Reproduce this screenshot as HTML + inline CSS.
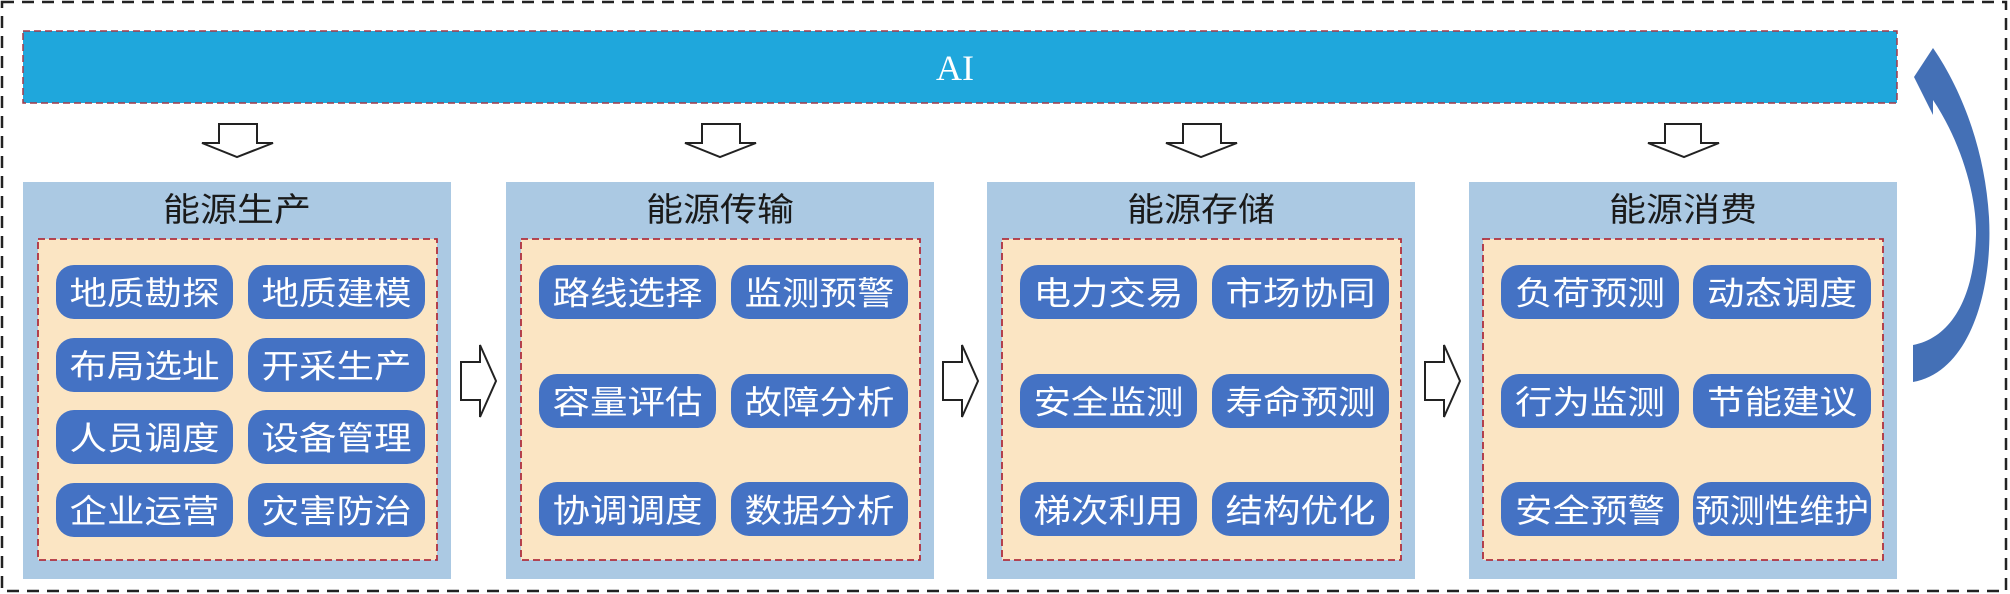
<!DOCTYPE html>
<html><head><meta charset="utf-8"><style>
html,body{margin:0;padding:0;background:#fff;}
svg{display:block;}
.t{font-family:"Liberation Sans","Noto Sans CJK SC",sans-serif;}
</style></head><body>
<svg width="2010" height="594" viewBox="0 0 2010 594" xmlns="http://www.w3.org/2000/svg">
<rect x="2" y="2" width="2004" height="589" fill="none" stroke="#222" stroke-width="2.5" stroke-dasharray="12,8"/>
<rect x="23" y="31" width="1874" height="72" fill="#1fa7dc" stroke="#a33a48" stroke-width="1.5" stroke-dasharray="7,4"/>
<text x="955" y="80" fill="#fff" font-family="Liberation Serif,serif" font-size="36" text-anchor="middle">AI</text>

<!-- down arrows -->
<g fill="#fff" stroke="#222" stroke-width="2">
<path d="M219,124 H257 V143 H273 L237,157 L202,143 H219 Z"/>
<path d="M702,124 H740 V143 H756 L720,157 L685,143 H702 Z"/>
<path d="M1183,124 H1221 V143 H1237 L1201,157 L1166,143 H1183 Z"/>
<path d="M1665,124 H1701 V143 H1719 L1684,157 L1648,143 H1665 Z"/>
<path d="M461,362 H480 V345 L496,381 L480,417 V400 H461 Z"/>
<path d="M943,362 H962 V345 L978,381 L962,417 V400 H943 Z"/>
<path d="M1425,362 H1444 V345 L1460,381 L1444,417 V400 H1425 Z"/>
</g>

<!-- curved arrow -->
<path d="M1913,382 C1970,372 1993,290 1989,217 C1985,150 1962,90 1933,48 L1914,77 L1933,115 L1933,100 C1960,140 1977,195 1976,235 C1974,300 1950,338 1913,345 Z" fill="#4470b6"/>

<g id="panels">
<rect x="23" y="182" width="428" height="397" fill="#abc9e3"/>
<rect x="506" y="182" width="428" height="397" fill="#abc9e3"/>
<rect x="987" y="182" width="428" height="397" fill="#abc9e3"/>
<rect x="1469" y="182" width="428" height="397" fill="#abc9e3"/>
<g fill="#fbe5c3" stroke="#b0303e" stroke-width="1.8" stroke-dasharray="7,4">
<rect x="38" y="239" width="399" height="321"/>
<rect x="521" y="239" width="399" height="321"/>
<rect x="1002" y="239" width="399" height="321"/>
<rect x="1483" y="239" width="400" height="321"/>
</g>
<g fill="#4472c4">
<rect x="56" y="265" width="177" height="54" rx="18"/><rect x="248" y="265" width="177" height="54" rx="18"/>
<rect x="56" y="338" width="177" height="54" rx="18"/><rect x="248" y="338" width="177" height="54" rx="18"/>
<rect x="56" y="410" width="177" height="54" rx="18"/><rect x="248" y="410" width="177" height="54" rx="18"/>
<rect x="56" y="483" width="177" height="54" rx="18"/><rect x="248" y="483" width="177" height="54" rx="18"/>

<rect x="539" y="265" width="177" height="54" rx="18"/><rect x="731" y="265" width="177" height="54" rx="18"/>
<rect x="539" y="374" width="177" height="54" rx="18"/><rect x="731" y="374" width="177" height="54" rx="18"/>
<rect x="539" y="482" width="177" height="54" rx="18"/><rect x="731" y="482" width="177" height="54" rx="18"/>

<rect x="1020" y="265" width="177" height="54" rx="18"/><rect x="1212" y="265" width="177" height="54" rx="18"/>
<rect x="1020" y="374" width="177" height="54" rx="18"/><rect x="1212" y="374" width="177" height="54" rx="18"/>
<rect x="1020" y="482" width="177" height="54" rx="18"/><rect x="1212" y="482" width="177" height="54" rx="18"/>

<rect x="1501" y="265" width="178" height="54" rx="18"/><rect x="1693" y="265" width="178" height="54" rx="18"/>
<rect x="1501" y="374" width="178" height="54" rx="18"/><rect x="1693" y="374" width="178" height="54" rx="18"/>
<rect x="1501" y="482" width="178" height="54" rx="18"/><rect x="1693" y="482" width="178" height="54" rx="18"/>
</g>
</g>

<g transform="scale(1,0.85)" class="t" text-anchor="middle">
<g font-size="39" fill="#1a1a1a">
<text x="237" y="260" textLength="148" lengthAdjust="spacingAndGlyphs">能源生产</text>
<text x="720" y="260" textLength="148" lengthAdjust="spacingAndGlyphs">能源传输</text>
<text x="1201" y="260" textLength="148" lengthAdjust="spacingAndGlyphs">能源存储</text>
<text x="1683" y="260" textLength="148" lengthAdjust="spacingAndGlyphs">能源消费</text>
</g>
<g font-size="38" fill="#fff">
<text x="144.5" y="358" textLength="150" lengthAdjust="spacingAndGlyphs">地质勘探</text><text x="336.5" y="358" textLength="150" lengthAdjust="spacingAndGlyphs">地质建模</text>
<text x="144.5" y="444" textLength="150" lengthAdjust="spacingAndGlyphs">布局选址</text><text x="336.5" y="444" textLength="150" lengthAdjust="spacingAndGlyphs">开采生产</text>
<text x="144.5" y="529" textLength="150" lengthAdjust="spacingAndGlyphs">人员调度</text><text x="336.5" y="529" textLength="150" lengthAdjust="spacingAndGlyphs">设备管理</text>
<text x="144.5" y="614.5" textLength="150" lengthAdjust="spacingAndGlyphs">企业运营</text><text x="336.5" y="614.5" textLength="150" lengthAdjust="spacingAndGlyphs">灾害防治</text>

<text x="627.5" y="358" textLength="150" lengthAdjust="spacingAndGlyphs">路线选择</text><text x="819.5" y="358" textLength="150" lengthAdjust="spacingAndGlyphs">监测预警</text>
<text x="627.5" y="486.5" textLength="150" lengthAdjust="spacingAndGlyphs">容量评估</text><text x="819.5" y="486.5" textLength="150" lengthAdjust="spacingAndGlyphs">故障分析</text>
<text x="627.5" y="614" textLength="150" lengthAdjust="spacingAndGlyphs">协调调度</text><text x="819.5" y="614" textLength="150" lengthAdjust="spacingAndGlyphs">数据分析</text>

<text x="1108.5" y="358" textLength="150" lengthAdjust="spacingAndGlyphs">电力交易</text><text x="1300.5" y="358" textLength="150" lengthAdjust="spacingAndGlyphs">市场协同</text>
<text x="1108.5" y="486.5" textLength="150" lengthAdjust="spacingAndGlyphs">安全监测</text><text x="1300.5" y="486.5" textLength="150" lengthAdjust="spacingAndGlyphs">寿命预测</text>
<text x="1108.5" y="614" textLength="150" lengthAdjust="spacingAndGlyphs">梯次利用</text><text x="1300.5" y="614" textLength="150" lengthAdjust="spacingAndGlyphs">结构优化</text>

<text x="1590" y="358" textLength="150" lengthAdjust="spacingAndGlyphs">负荷预测</text><text x="1782" y="358" textLength="150" lengthAdjust="spacingAndGlyphs">动态调度</text>
<text x="1590" y="486.5" textLength="150" lengthAdjust="spacingAndGlyphs">行为监测</text><text x="1782" y="486.5" textLength="150" lengthAdjust="spacingAndGlyphs">节能建议</text>
<text x="1590" y="614" textLength="150" lengthAdjust="spacingAndGlyphs">安全预警</text><text x="1782" y="614" textLength="174" lengthAdjust="spacingAndGlyphs">预测性维护</text>
</g>
</g>
</svg>
</body></html>
